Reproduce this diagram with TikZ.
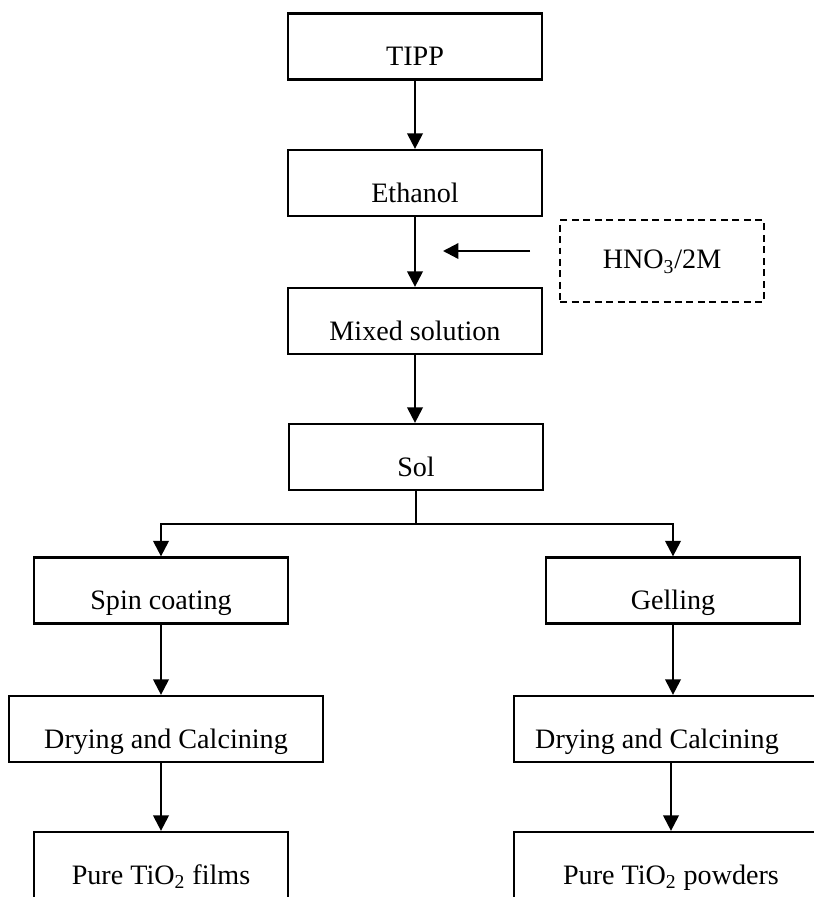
\documentclass[tikz,border=0pt]{standalone}
\usepackage{fontspec}
\setmainfont{Liberation Serif}
\usetikzlibrary{arrows.meta}

\begin{document}
\begin{tikzpicture}[x={(0.02cm,0cm)},y={(0cm,-0.02cm)},line width=1.3pt,>={Triangle[length=0.31cm,width=0.31cm]},
  font=\fontsize{16}{19}\selectfont,
  caja/.style={draw,minimum width=5.08cm,minimum height=1.32cm,inner sep=0.1cm,text height=0.84cm,text depth=0.08cm},
  ancha/.style={caja,minimum width=6.28cm},
  aditivo/.style={draw,dash pattern=on 0.14cm off 0.09cm,minimum width=4.08cm,minimum height=1.64cm,text height=0.4cm,text depth=0.1cm}]
  \useasboundingbox (0,0) rectangle (814,897);
  % tronco comun
  \node[caja] (tipp) at (415,46.5) {TIPP};
  \node[caja] (etanol) at (415,183) {Ethanol};
  \node[caja] (mezcla) at (415,321) {Mixed solution};
  \node[caja] (sol) at (416,457) {Sol};
  \node[aditivo] (acido) at (662,261) {HNO\textsubscript{3}/2M};
  \draw[->] (tipp) -- (etanol);
  \draw[->] (etanol) -- (mezcla);
  \draw[->] (mezcla) -- (mezcla |- sol.north);
  \coordinate (entrada) at (530,251);
  \coordinate (punta) at (443,251);
  \draw[->] (entrada) -- (punta);
  % rama izquierda: peliculas
  \node[caja] (spin) at (161,590.5) {Spin coating};
  \node[ancha] (secado1) at (166,729) {Drying and Calcining};
  \node[caja] (pelicula) at (161,865) {Pure TiO\textsubscript{2} films};
  % rama derecha: polvos
  \node[caja] (gel) at (673,590.5) {Gelling};
  \node[ancha] (secado2) at (671,729) {\hspace*{-0.56cm}Drying and Calcining};
  \node[ancha] (polvo) at (671,865) {Pure TiO\textsubscript{2} powders};
  \coordinate (rama) at (416,524);
  \draw (sol) -- (rama);
  \draw[->] (rama) -| (spin);
  \draw[->] (rama) -| (gel);
  \draw[->] (spin) -- (spin |- secado1.north);
  \draw[->] (pelicula |- secado1.south) -- (pelicula);
  \draw[->] (gel) -- (gel |- secado2.north);
  \draw[->] (secado2) -- (polvo);
\end{tikzpicture}
\end{document}
